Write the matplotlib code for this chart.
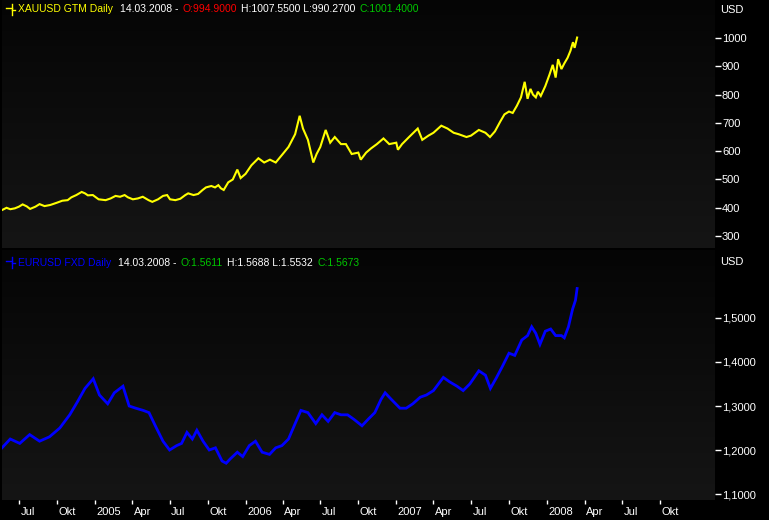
import numpy as np
import pandas as pd
import matplotlib
matplotlib.use("Agg")
import matplotlib.pyplot as plt
from matplotlib.colors import LinearSegmentedColormap
from matplotlib.offsetbox import TextArea, HPacker, AnnotationBbox
from matplotlib.lines import Line2D
from matplotlib.transforms import ScaledTranslation

# ---------------- data ----------------
gold_dates = [
    "2004-05-21", "2004-06-01", "2004-06-10", "2004-06-21", "2004-07-01", "2004-07-10",
    "2004-07-20", "2004-07-28", "2004-08-10", "2004-08-20", "2004-09-01", "2004-09-15",
    "2004-10-01", "2004-10-14", "2004-10-27", "2004-11-05", "2004-11-17", "2004-11-30",
    "2004-12-08", "2004-12-15", "2004-12-27", "2005-01-10", "2005-01-27", "2005-02-08",
    "2005-02-20", "2005-03-03", "2005-03-14", "2005-03-22", "2005-04-03", "2005-04-15",
    "2005-04-27", "2005-05-11", "2005-05-20", "2005-06-03", "2005-06-15", "2005-06-25",
    "2005-07-02", "2005-07-15", "2005-07-27", "2005-08-08", "2005-08-15", "2005-08-28",
    "2005-09-08", "2005-09-19", "2005-09-27", "2005-10-10", "2005-10-19", "2005-10-27",
    "2005-11-02", "2005-11-09", "2005-11-20", "2005-12-01", "2005-12-12", "2005-12-20",
    "2006-01-01", "2006-01-15", "2006-02-01", "2006-02-15", "2006-03-01", "2006-03-15",
    "2006-04-01", "2006-04-15", "2006-05-01", "2006-05-12", "2006-05-20", "2006-06-01",
    "2006-06-14", "2006-06-22", "2006-07-01", "2006-07-14", "2006-07-25", "2006-08-05",
    "2006-08-20", "2006-09-01", "2006-09-15", "2006-10-01", "2006-10-07", "2006-10-20",
    "2006-11-01", "2006-11-15", "2006-12-01", "2006-12-15", "2007-01-01", "2007-01-05",
    "2007-01-15", "2007-02-01", "2007-02-22", "2007-03-05", "2007-03-20", "2007-04-01",
    "2007-04-20", "2007-05-05", "2007-05-20", "2007-06-01", "2007-06-20", "2007-07-01",
    "2007-07-20", "2007-08-05", "2007-08-16", "2007-08-28", "2007-09-10", "2007-09-20",
    "2007-10-01", "2007-10-10", "2007-10-20", "2007-10-30", "2007-11-08", "2007-11-15",
    "2007-11-22", "2007-11-28", "2007-12-05", "2007-12-10", "2007-12-17", "2007-12-28",
    "2008-01-07", "2008-01-15", "2008-01-22", "2008-01-28", "2008-02-05", "2008-02-12",
    "2008-02-20", "2008-02-27", "2008-03-04", "2008-03-08", "2008-03-14",
]
gold_values = [
    392, 400, 395, 398, 404, 412,
    405, 396, 404, 413, 406, 410,
    418, 425, 427, 437, 445, 456,
    451, 444, 445, 430, 427, 433,
    442, 439, 445, 437, 430, 433,
    439, 427, 421, 430, 442, 445,
    430, 427, 432, 445, 451, 445,
    449, 463, 472, 477, 472, 480,
    469, 463, 490, 500, 535, 505,
    520, 550, 575, 560, 570, 560,
    590, 615, 660, 725, 680, 640,
    560, 590, 615, 675, 630, 650,
    625, 625, 590, 595, 570, 595,
    610, 625, 645, 625, 630, 605,
    625, 650, 680, 640, 655, 665,
    690, 680, 665, 660, 650, 655,
    675, 665, 650, 670, 705, 730,
    740, 735, 760, 790, 845, 785,
    820, 800, 790, 810, 795, 830,
    870, 905, 860, 925, 890, 910,
    930, 955, 985, 965, 1001.4,
]

eur_dates = [
    "2004-05-21", "2004-06-10", "2004-07-03", "2004-07-27", "2004-08-20", "2004-09-13",
    "2004-10-08", "2004-11-01", "2004-11-20", "2004-12-08", "2004-12-28", "2005-01-12",
    "2005-02-01", "2005-02-17", "2005-03-10", "2005-03-25", "2005-04-10", "2005-04-28",
    "2005-05-12", "2005-05-30", "2005-06-15", "2005-07-01", "2005-07-18", "2005-07-30",
    "2005-08-12", "2005-08-25", "2005-09-05", "2005-09-20", "2005-10-05", "2005-10-20",
    "2005-11-05", "2005-11-15", "2005-11-25", "2005-12-12", "2005-12-25", "2006-01-10",
    "2006-01-25", "2006-02-10", "2006-02-28", "2006-03-15", "2006-03-30", "2006-04-15",
    "2006-05-01", "2006-05-15", "2006-06-01", "2006-06-20", "2006-07-05", "2006-07-20",
    "2006-08-05", "2006-08-20", "2006-09-05", "2006-09-20", "2006-10-10", "2006-10-25",
    "2006-11-10", "2006-11-25", "2006-12-05", "2006-12-20", "2007-01-10", "2007-01-25",
    "2007-02-10", "2007-02-28", "2007-03-15", "2007-04-01", "2007-04-25", "2007-05-10",
    "2007-05-28", "2007-06-12", "2007-06-28", "2007-07-20", "2007-08-05", "2007-08-17",
    "2007-09-01", "2007-09-15", "2007-10-01", "2007-10-15", "2007-11-01", "2007-11-15",
    "2007-11-25", "2007-12-05", "2007-12-15", "2007-12-28", "2008-01-10", "2008-01-22",
    "2008-02-05", "2008-02-12", "2008-02-22", "2008-03-03", "2008-03-10", "2008-03-14",
]
eur_values = [
    1.205, 1.225, 1.215, 1.235, 1.220, 1.230,
    1.250, 1.280, 1.310, 1.340, 1.362, 1.325,
    1.305, 1.330, 1.345, 1.300, 1.295, 1.290,
    1.285, 1.250, 1.220, 1.200, 1.210, 1.215,
    1.240, 1.225, 1.245, 1.220, 1.200, 1.205,
    1.175, 1.170, 1.180, 1.195, 1.185, 1.210,
    1.220, 1.195, 1.190, 1.205, 1.210, 1.225,
    1.260, 1.290, 1.285, 1.260, 1.280, 1.265,
    1.285, 1.280, 1.280, 1.270, 1.255, 1.270,
    1.285, 1.315, 1.330, 1.315, 1.295, 1.295,
    1.305, 1.320, 1.325, 1.335, 1.365, 1.355,
    1.345, 1.335, 1.350, 1.380, 1.370, 1.340,
    1.365, 1.390, 1.420, 1.415, 1.450, 1.460,
    1.480, 1.465, 1.440, 1.470, 1.475, 1.460,
    1.460, 1.455, 1.480, 1.520, 1.540, 1.567,
]

tick_dates = ["2004-07-01", "2004-10-01", "2005-01-01", "2005-04-01", "2005-07-01", "2005-10-01",
              "2006-01-01", "2006-04-01", "2006-07-01", "2006-10-01", "2007-01-01", "2007-04-01",
              "2007-07-01", "2007-10-01", "2008-01-01", "2008-04-01", "2008-07-01", "2008-10-01"]
tick_labels = ["Jul", "Okt", "2005", "Apr", "Jul", "Okt", "2006", "Apr", "Jul", "Okt",
               "2007", "Apr", "Jul", "Okt", "2008", "Apr", "Jul", "Okt"]

gold_ticks = [300, 400, 500, 600, 700, 800, 900, 1000]
eur_ticks = [1.1, 1.2, 1.3, 1.4, 1.5]

x_range = ["2004-05-21", "2009-02-11"]
gold_range = (258, 1134)
eur_range = (1.0864, 1.6545)

gold_title = [("XAUUSD GTM Daily ", "#FFFF00"), ("14.03.2008 -", "#FFFFFF"),
              ("O:994.9000", "#FF0000"), ("H:1007.5500 L:990.2700", "#FFFFFF"),
              ("C:1001.4000", "#00C800")]
eur_title = [("EURUSD FXD Daily ", "#0000FF"), ("14.03.2008 -", "#FFFFFF"),
             ("O:1.5611", "#00C800"), ("H:1.5688 L:1.5532", "#FFFFFF"),
             ("C:1.5673", "#00C800")]

# ---------------- figure ----------------
W, H = 769, 520
FONT = "Liberation Sans"
FS = 8
TFS = 7.5
plt.rcParams["font.family"] = [FONT, "DejaVu Sans"]

fig = plt.figure(figsize=(W / 100, H / 100), dpi=100, facecolor="black")

def px_axes(x0, y0, x1, y1):
    return fig.add_axes([x0 / W, 1 - y1 / H, (x1 - x0) / W, (y1 - y0) / H])

ax1 = px_axes(2, 0, 715, 248)
ax2 = px_axes(2, 250, 715, 500)

cmap = LinearSegmentedColormap.from_list("bg", ["#050505", "#151515"])
grad = np.linspace(0, 1, 256).reshape(-1, 1)

xlim = [pd.Timestamp(d) for d in x_range]
tdates = [pd.Timestamp(d) for d in tick_dates]

def style(ax, dates, values, color, lw, yticks, ylim, fmt):
    ax.plot(pd.to_datetime(dates), values, color=color, lw=lw, zorder=3,
            solid_joinstyle="miter")
    ax.imshow(grad, extent=[0, 1, 0, 1], transform=ax.transAxes, cmap=cmap,
              aspect="auto", zorder=0, interpolation="bilinear")
    ax.set_xlim(xlim)
    ax.set_ylim(ylim)
    ax.set_facecolor("#0d0d0d")
    for s in ax.spines.values():
        s.set_visible(False)
    ax.yaxis.tick_right()
    ax.set_yticks(yticks)
    ax.set_yticklabels([fmt(v) for v in yticks])
    ax.tick_params(axis="y", colors="white", length=4, width=1, pad=1,
                   labelsize=FS, direction="out")
    ax.set_xticks(tdates)

style(ax1, gold_dates, gold_values, "#FFFF00", 1.5, gold_ticks, gold_range, lambda v: f"{v:d}")
style(ax2, eur_dates, eur_values, "#0000FF", 2.0, eur_ticks, eur_range,
      lambda v: f"{v:.4f}".replace(".", ","))

ax1.tick_params(axis="x", length=0, labelbottom=False)
ax2.set_xticklabels(tick_labels)
ax2.tick_params(axis="x", colors="white", length=3, width=1, pad=2, labelsize=FS,
                direction="out")
for lab in ax2.get_xticklabels():
    lab.set_horizontalalignment("left")
    lab.set_transform(lab.get_transform() + ScaledTranslation(1.5 / 100, 0, fig.dpi_scale_trans))

# "USD" labels
fig.text(720 / W, 1 - 10 / H, "USD", color="white", fontsize=FS, va="center", ha="left")
fig.text(720 / W, 1 - 262 / H, "USD", color="white", fontsize=FS, va="center", ha="left")

# titles
def title(pieces, ypx, iconcolor):
    boxes = [TextArea(t, textprops=dict(color=c, fontsize=TFS, family=FONT)) for t, c in pieces]
    pack = HPacker(children=boxes, align="baseline", pad=0, sep=3)
    ab = AnnotationBbox(pack, (18 / W, 1 - ypx / H), xycoords="figure fraction",
                        box_alignment=(0, 0.5), frameon=False, pad=0)
    fig.add_artist(ab)
    yc = 1 - ypx / H
    fig.add_artist(Line2D([11.5 / W, 11.5 / W], [yc - 5 / H, yc + 6 / H], color=iconcolor, lw=1))
    fig.add_artist(Line2D([6 / W, 11.5 / W], [yc + 2 / H, yc + 2 / H], color=iconcolor, lw=1))
    fig.add_artist(Line2D([11.5 / W, 15 / W], [yc + 0 / H, yc + 0 / H], color=iconcolor, lw=1))

title(gold_title, 9.5, "#FFFF00")
title(eur_title, 262.5, "#0000FF")

fig.savefig("out.png", dpi=100, facecolor="black")
